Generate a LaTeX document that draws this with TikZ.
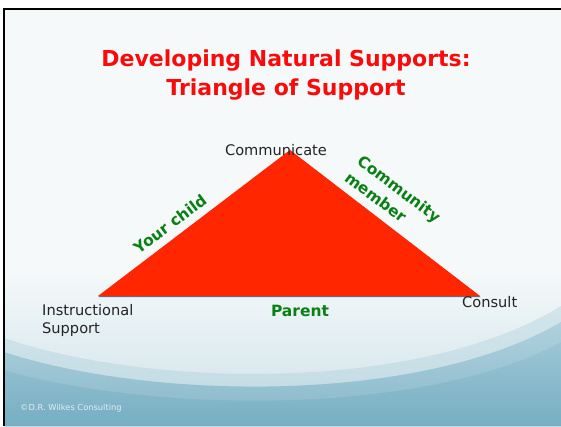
\documentclass[tikz,border=0pt]{standalone}
\usepackage{fontspec}
\setmainfont{DejaVu Sans}
\definecolor{slidebg}{RGB}{245,249,250}
\definecolor{wavelight}{RGB}{205,225,232}
\definecolor{wavetop}{RGB}{165,203,216}
\definecolor{wavebottom}{RGB}{118,174,195}
\definecolor{trired}{RGB}{255,38,0}
\definecolor{triedge}{RGB}{80,120,145}
\definecolor{titlered}{RGB}{250,10,10}
\definecolor{labelgreen}{RGB}{10,128,20}
\definecolor{labelgrey}{RGB}{35,35,35}
\definecolor{footgrey}{RGB}{225,238,242}
\begin{document}
\begin{tikzpicture}[x=1pt,y=-1pt,
  titletext/.style={text=titlered,font=\fontsize{22}{29}\selectfont\bfseries,align=center,inner sep=0pt},
  cornertext/.style={text=labelgrey,font=\fontsize{14.6}{18}\selectfont,inner sep=0pt},
  sidetext/.style={text=labelgreen,font=\fontsize{15.5}{21}\selectfont\bfseries,inner sep=0pt},
  foottext/.style={text=footgrey,font=\fontsize{8.3}{10}\selectfont,inner sep=0pt}]
  \useasboundingbox (0,0) rectangle (561,426);
  \fill[white] (0,0) rectangle (561,426);
  % slide background
  \fill[slidebg] (4,9) rectangle (561,426);
  \shade[top color=slidebg,bottom color=wavelight] (4,270) rectangle (561,426);
  % soft edge above the wave
  \fill[wavetop,opacity=0.35]
    (4,338) .. controls (150,388) and (420,393) .. (561,306)
    -- (561,426) -- (4,426) -- cycle;
  % blue wave along the bottom
  \shade[top color=wavetop,bottom color=wavebottom]
    (4,352) .. controls (150,400) and (420,405) .. (561,322)
    -- (561,426) -- (4,426) -- cycle;
  \fill[white,opacity=0.12]
    (4,352) .. controls (150,400) and (420,405) .. (561,322)
    -- (561,342) .. controls (420,418) and (150,412) .. (4,370) -- cycle;
  % frame lines
  \draw[black,line width=2pt] (3,9) -- (561,9);
  \draw[black,line width=2pt] (4,8) -- (4,426);

  % title
  \node[titletext,anchor=base] (title) at (286,95) {Developing Natural Supports:\\Triangle of Support};

  % triangle corners
  \coordinate (apex) at (290,150);
  \coordinate (left) at (98,296);
  \coordinate (right) at (480,296);
  \fill[triedge] ([shift={(0.8,1.2)}]apex) -- ([shift={(0.8,1.2)}]right) -- ([shift={(0,1.2)}]left) -- cycle;
  \fill[trired] (apex) -- (right) -- (left) -- cycle;

  % corner labels
  \node[cornertext,anchor=base] (comm) at (276,155) {Communicate};
  \node[cornertext,anchor=base west,align=left] (instr) at (42,333) {Instructional\\Support};
  \node[cornertext,anchor=base west] (consult) at (462,307) {Consult};

  % side labels
  \node[sidetext,rotate=37] (child) at (170,224) {Your child};
  \node[sidetext,rotate=-37,align=left] (member) at (393,197) {Community\\member};
  \node[sidetext,anchor=base] (parent) at (300,316) {Parent};

  % footer
  \node[foottext,anchor=base west] (foot) at (20,410) {©D.R. Wilkes Consulting};
\end{tikzpicture}
\end{document}
